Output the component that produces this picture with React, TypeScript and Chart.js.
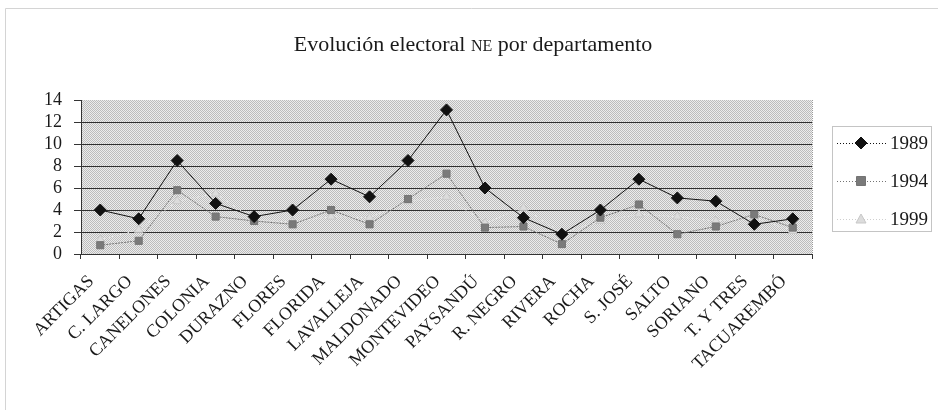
import React, { useEffect, useRef } from "react";
import { Chart, registerables } from "chart.js";

Chart.register(...registerables);

const departments = [
  "ARTIGAS", "C. LARGO", "CANELONES", "COLONIA", "DURAZNO", "FLORES", "FLORIDA",
  "LAVALLEJA", "MALDONADO", "MONTEVIDEO", "PAYSANDÚ", "R. NEGRO", "RIVERA", "ROCHA",
  "S. JOSÉ", "SALTO", "SORIANO", "T. Y TRES", "TACUAREMBÓ",
];
const values1989 = [4.0, 3.2, 8.5, 4.6, 3.4, 4.0, 6.8, 5.2, 8.5, 13.1, 6.0, 3.3, 1.8, 4.0, 6.8, 5.1, 4.8, 2.7, 3.2];
const values1994 = [0.8, 1.2, 5.8, 3.4, 3.0, 2.7, 4.0, 2.7, 5.0, 7.3, 2.4, 2.5, 0.9, 3.3, 4.5, 1.8, 2.5, 3.6, 2.4];
const values1999 = [1.3, 2.2, 4.8, 5.5, 3.1, 2.9, 3.4, 3.3, 4.8, 5.2, 2.8, 4.2, 1.9, 3.0, 3.6, 3.4, 3.0, 3.3, 2.1];
const seriesNames = ["1989", "1994", "1999"];
const yMin = 0;
const yMax = 14;
const yStep = 2;

const SERIF = "'Liberation Serif', 'DejaVu Serif', serif";

export default function App() {
  const canvasRef = useRef<HTMLCanvasElement | null>(null);

  useEffect(() => {
    const canvas = canvasRef.current;
    if (!canvas) return;

    const pc = document.createElement("canvas");
    pc.width = 2;
    pc.height = 2;
    const pctx = pc.getContext("2d")!;
    pctx.fillStyle = "#ececec";
    pctx.fillRect(0, 0, 2, 2);
    pctx.fillStyle = "#bcbcbc";
    pctx.fillRect(0, 0, 1, 1);
    pctx.fillRect(1, 1, 1, 1);

    const styles = [
      { color: "#111111", fill: "#111111", point: "rectRot", radius: 6, dash: [] as number[] },
      { color: "#747474", fill: "#7a7a7a", point: "rect", radius: 5, dash: [2, 1] },
      { color: "#e8e8e8", fill: "#dcdcdc", point: "triangle", radius: 5, dash: [2, 2] },
    ];

    const decor = {
      id: "decor",
      beforeDraw(chart: any) {
        const { ctx, chartArea: a, width, height } = chart;
        ctx.save();
        ctx.fillStyle = "#ffffff";
        ctx.fillRect(0, 0, width, height);
        ctx.fillStyle = ctx.createPattern(pc, "repeat");
        ctx.fillRect(a.left, a.top, a.right - a.left, a.bottom - a.top);
        // outer frame (top + left)
        ctx.strokeStyle = "#d4d4d4";
        ctx.lineWidth = 1;
        ctx.beginPath();
        ctx.moveTo(5.5, height);
        ctx.lineTo(5.5, 8.5);
        ctx.lineTo(width, 8.5);
        ctx.stroke();
        // dotted right border of plot
        ctx.strokeStyle = "#9a9a9a";
        ctx.setLineDash([1, 1]);
        ctx.beginPath();
        ctx.moveTo(Math.round(a.right) + 0.5, a.top);
        ctx.lineTo(Math.round(a.right) + 0.5, a.bottom);
        ctx.stroke();
        ctx.setLineDash([]);
        // title
        const parts = [
          { t: "Evolución electoral ", f: `22px ${SERIF}` },
          { t: "NE", f: `16px ${SERIF}` },
          { t: " por departamento", f: `22px ${SERIF}` },
        ];
        let total = 0;
        parts.forEach((p) => {
          ctx.font = p.f;
          total += ctx.measureText(p.t).width;
        });
        let x = 473 - total / 2;
        ctx.fillStyle = "#1a1a1a";
        ctx.textBaseline = "alphabetic";
        ctx.textAlign = "left";
        parts.forEach((p) => {
          ctx.font = p.f;
          ctx.fillText(p.t, x, 51);
          x += ctx.measureText(p.t).width;
        });
        ctx.restore();
      },
      afterDraw(chart: any) {
        const { ctx } = chart;
        ctx.save();
        ctx.strokeStyle = "#c4c4c4";
        ctx.lineWidth = 1;
        ctx.strokeRect(832.5, 126.5, 99, 105);
        const ys = [143, 181, 219];
        seriesNames.forEach((name, i) => {
          const s = styles[i];
          const y = ys[i];
          ctx.strokeStyle = i === 2 ? "#cfcfcf" : s.color;
          ctx.setLineDash([1, 2]);
          ctx.beginPath();
          ctx.moveTo(837, y + 0.5);
          ctx.lineTo(887, y + 0.5);
          ctx.stroke();
          ctx.setLineDash([]);
          ctx.fillStyle = s.fill;
          ctx.strokeStyle = i === 2 ? "#c8c8c8" : s.color;
          const cx = 861;
          ctx.beginPath();
          if (s.point === "rectRot") {
            ctx.moveTo(cx, y - 6);
            ctx.lineTo(cx + 6, y);
            ctx.lineTo(cx, y + 6);
            ctx.lineTo(cx - 6, y);
          } else if (s.point === "rect") {
            ctx.rect(cx - 4.5, y - 4.5, 9, 9);
          } else {
            ctx.moveTo(cx, y - 5);
            ctx.lineTo(cx + 5, y + 4);
            ctx.lineTo(cx - 5, y + 4);
          }
          ctx.closePath();
          ctx.fill();
          ctx.stroke();
          ctx.fillStyle = "#1a1a1a";
          ctx.font = `19px ${SERIF}`;
          ctx.textAlign = "left";
          ctx.textBaseline = "middle";
          ctx.fillText(name, 890, y + 1);
        });
        ctx.restore();
      },
    };

    const seriesValues = [values1989, values1994, values1999];

    const chart = new Chart(canvas, {
      type: "line",
      data: {
        labels: departments,
        datasets: seriesNames.map((name, i) => ({
          label: name,
          data: seriesValues[i],
          borderColor: styles[i].color,
          borderWidth: 1,
          borderDash: styles[i].dash,
          backgroundColor: styles[i].fill,
          pointStyle: styles[i].point as any,
          pointRadius: styles[i].radius,
          pointBackgroundColor: styles[i].fill,
          pointBorderColor: i === 2 ? "#c8c8c8" : styles[i].color,
          pointBorderWidth: 1,
          tension: 0,
          fill: false,
        })),
      },
      options: {
        animation: false,
        responsive: false,
        maintainAspectRatio: false,
        events: [],
        layout: { padding: { left: 0, right: 126, top: 100, bottom: 6 } },
        plugins: {
          legend: { display: false },
          title: { display: false },
          tooltip: { enabled: false },
        },
        scales: {
          x: {
            type: "category",
            offset: true,
            afterFit: (s: any) => {
              s.height = 150;
            },
            grid: {
              offset: true,
              drawOnChartArea: false,
              drawTicks: true,
              tickLength: 5,
              color: "#333333",
            },
            border: { display: true, color: "#333333", width: 1 },
            ticks: {
              autoSkip: false,
              maxRotation: 45,
              minRotation: 45,
              padding: 12,
              labelOffset: -9,
              color: "#1a1a1a",
              font: { family: SERIF, size: 18 },
            },
          },
          y: {
            min: yMin,
            max: yMax,
            afterFit: (s: any) => {
              s.width = 81;
            },
            grid: {
              color: (c: any) => (c.tick && c.tick.value === yMax ? "rgba(0,0,0,0)" : "#2e2e2e"),
              tickColor: "#333333",
              tickLength: 7,
              drawTicks: true,
            },
            border: { display: true, color: "#333333", width: 1 },
            ticks: {
              stepSize: yStep,
              autoSkip: false,
              padding: 12,
              color: "#1a1a1a",
              font: { family: SERIF, size: 18 },
            },
          },
        },
      },
      plugins: [decor],
    });

    return () => chart.destroy();
  }, []);

  return (
    <div style={{ position: "fixed", left: 0, top: 0, width: 938, height: 410, background: "#fff" }}>
      <canvas ref={canvasRef} width={938} height={410} style={{ display: "block", width: 938, height: 410 }} />
    </div>
  );
}
